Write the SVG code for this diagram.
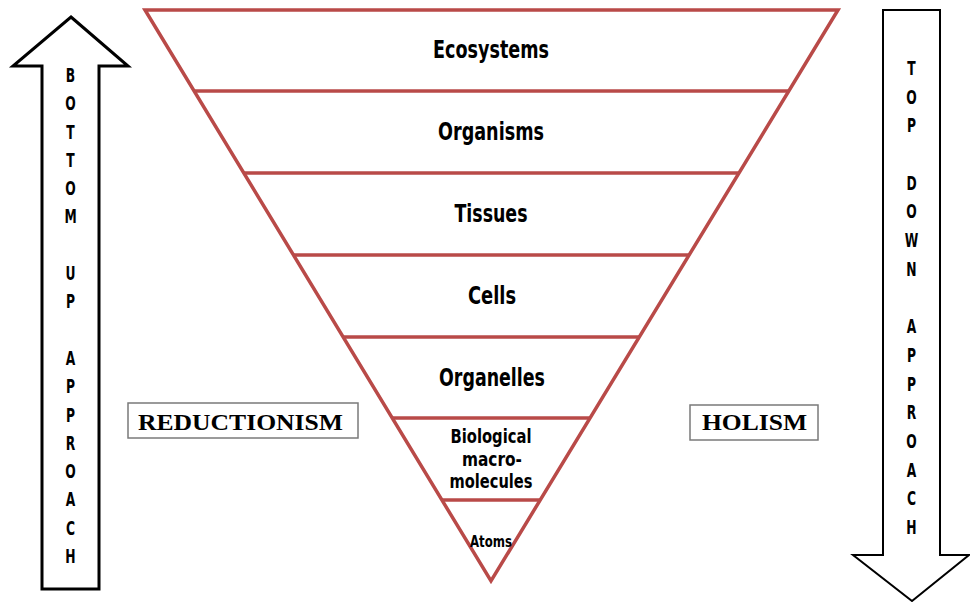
<svg xmlns="http://www.w3.org/2000/svg" width="970" height="602" viewBox="0 0 970 602">
<style>
.tri{fill:#fff;stroke:#b94a48;stroke-width:3.5;stroke-linejoin:miter}
.lvl{stroke:#b94a48;stroke-width:3.5}
.arr{fill:#fff;stroke:#000;stroke-linejoin:miter}
.lab{font-family:"DejaVu Sans Condensed","DejaVu Sans",sans-serif;font-weight:bold;fill:#000;text-anchor:middle}
.let{font-family:"DejaVu Sans Condensed","DejaVu Sans",sans-serif;font-weight:bold;font-size:19px;fill:#000;text-anchor:middle}
.box{fill:#fff;stroke:#7a7a7a;stroke-width:1.5}
.ser{font-family:"Liberation Serif","Times New Roman",serif;font-weight:bold;font-size:23px;fill:#000}
</style>
<rect width="970" height="602" fill="#fff"/>
<g id="pyramid">
<polygon class="tri" points="145,10 838,10 491,581"/>
</g>
<g id="connectors">
<line class="lvl" x1="194" y1="91" x2="789" y2="91"/>
<line class="lvl" x1="244" y1="173" x2="739" y2="173"/>
<line class="lvl" x1="293.5" y1="255" x2="689" y2="255"/>
<line class="lvl" x1="343" y1="337" x2="639.5" y2="337"/>
<line class="lvl" x1="392" y1="418" x2="590" y2="418"/>
<line class="lvl" x1="442" y1="500" x2="540" y2="500"/>
</g>
<g id="ecosystems"><text class="lab" x="491" y="58" font-size="25" textLength="116" lengthAdjust="spacingAndGlyphs">Ecosystems</text></g>
<g id="organisms"><text class="lab" x="491" y="140" font-size="25" textLength="106" lengthAdjust="spacingAndGlyphs">Organisms</text></g>
<g id="tissues"><text class="lab" x="491" y="222" font-size="25" textLength="73" lengthAdjust="spacingAndGlyphs">Tissues</text></g>
<g id="cells"><text class="lab" x="492" y="304" font-size="25" textLength="48" lengthAdjust="spacingAndGlyphs">Cells</text></g>
<g id="organelles"><text class="lab" x="492" y="386" font-size="25" textLength="106" lengthAdjust="spacingAndGlyphs">Organelles</text></g>
<g id="macromolecules">
<text class="lab" x="491" y="443" font-size="19.5" textLength="81" lengthAdjust="spacingAndGlyphs">Biological</text>
<text class="lab" x="492" y="466" font-size="19.5" textLength="60" lengthAdjust="spacingAndGlyphs">macro-</text>
<text class="lab" x="491" y="488" font-size="19.5" textLength="83" lengthAdjust="spacingAndGlyphs">molecules</text>
</g>
<g id="atoms"><text class="lab" x="491" y="547" font-size="15" textLength="42" lengthAdjust="spacingAndGlyphs">Atoms</text></g>
<g id="bottom-up">
<polygon class="arr" stroke-width="3" points="71,17 128,66 99,66 99,589 42,589 42,66 13,66"/>
<g transform="translate(70.5,0) scale(0.72,1)">
<text class="let" x="0" y="82">B</text>
<text class="let" x="0" y="110.3">O</text>
<text class="let" x="0" y="138.6">T</text>
<text class="let" x="0" y="166.9">T</text>
<text class="let" x="0" y="195.2">O</text>
<text class="let" x="0" y="223.5">M</text>
<text class="let" x="0" y="280.1">U</text>
<text class="let" x="0" y="308.4">P</text>
<text class="let" x="0" y="365">A</text>
<text class="let" x="0" y="393.3">P</text>
<text class="let" x="0" y="421.6">P</text>
<text class="let" x="0" y="449.9">R</text>
<text class="let" x="0" y="478.2">O</text>
<text class="let" x="0" y="506.5">A</text>
<text class="let" x="0" y="534.8">C</text>
<text class="let" x="0" y="563.1">H</text>
</g>
</g>
<g id="top-down">
<polygon class="arr" stroke-width="2" points="883,10 940,10 940,555 969,555 912,601 853,555 883,555"/>
<g transform="translate(911.5,0) scale(0.72,1)">
<text class="let" x="0" y="75">T</text>
<text class="let" x="0" y="103.7">O</text>
<text class="let" x="0" y="132.4">P</text>
<text class="let" x="0" y="189.8">D</text>
<text class="let" x="0" y="218.5">O</text>
<text class="let" x="0" y="247.2">W</text>
<text class="let" x="0" y="275.9">N</text>
<text class="let" x="0" y="333.3">A</text>
<text class="let" x="0" y="362">P</text>
<text class="let" x="0" y="390.7">P</text>
<text class="let" x="0" y="419.4">R</text>
<text class="let" x="0" y="448.1">O</text>
<text class="let" x="0" y="476.8">A</text>
<text class="let" x="0" y="505.5">C</text>
<text class="let" x="0" y="534.2">H</text>
</g>
</g>
<g id="reductionism">
<rect class="box" x="128" y="403" width="230" height="35"/>
<text class="ser" x="138" y="430" textLength="205" lengthAdjust="spacingAndGlyphs">REDUCTIONISM</text>
</g>
<g id="holism">
<rect class="box" x="690" y="405" width="128" height="35"/>
<text class="ser" x="702" y="430" textLength="105" lengthAdjust="spacingAndGlyphs">HOLISM</text>
</g>
</svg>
